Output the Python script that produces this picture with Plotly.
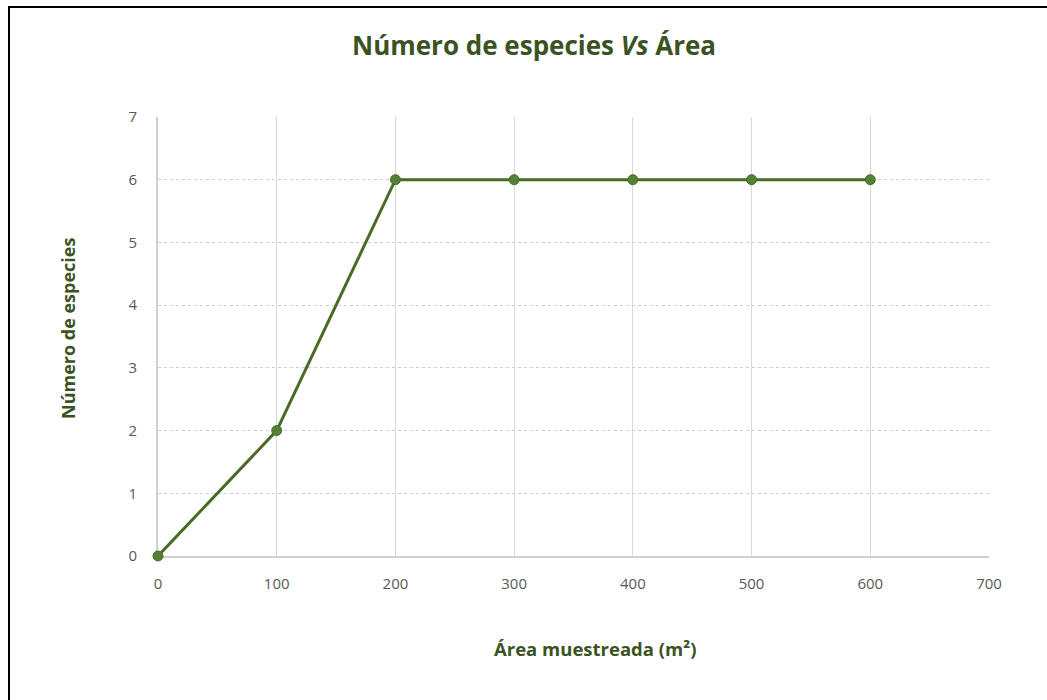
import plotly.graph_objects as go

# Species-area curve data
area = [0, 100, 200, 300, 400, 500, 600]
especies = [0, 2, 6, 6, 6, 6, 6]
x_ticks = [0, 100, 200, 300, 400, 500, 600, 700]
y_ticks = [0, 1, 2, 3, 4, 5, 6, 7]

W, H = 1047, 700
L, R, T, B = 158, 58, 117, 144
PW, PH = W - L - R, H - T - B

GREEN_TEXT = "#3b5323"
LINE = "#4a6b26"
MARKER = "#538135"
TICK = "#595959"
FONT = "'Open Sans', Lato, sans-serif"


def px(xp):
    return (xp - L) / PW


def py(yp):
    return (H - B - yp) / PH


fig = go.Figure()
fig.add_trace(go.Scatter(
    x=area, y=especies, mode="lines+markers",
    line=dict(color=LINE, width=3),
    marker=dict(color=MARKER, size=10, line=dict(color=LINE, width=1)),
    cliponaxis=False, showlegend=False,
))

fig.update_layout(
    width=W, height=H,
    margin=dict(l=L, r=R, t=T, b=B),
    paper_bgcolor="white", plot_bgcolor="white",
    font=dict(family=FONT, color=TICK, size=15),
    xaxis=dict(
        range=[0, 700], tickvals=x_ticks, ticks="outside", ticklen=13,
        tickcolor="rgba(0,0,0,0)", showline=True, layer="below traces",
        linecolor="#d0d0d0", linewidth=2, showgrid=True, gridcolor="#d9d9d9",
        gridwidth=1, zeroline=False, tickfont=dict(size=15, color=TICK),
    ),
    yaxis=dict(
        range=[0, 7], tickvals=y_ticks, ticks="", showline=True,
        layer="below traces",
        linecolor="#d0d0d0", linewidth=2, showgrid=True, gridcolor="#d0d0d0",
        griddash="dot", gridwidth=1, zeroline=False,
        tickfont=dict(size=15, color=TICK), ticklabelstandoff=16,
    ),
    annotations=[
        dict(text="<b>Número de especies <i>Vs</i> Área</b>", xref="paper", yref="paper",
             x=px(534), y=py(45), showarrow=False, xanchor="center", yanchor="middle",
             font=dict(size=26, color=GREEN_TEXT, family=FONT)),
        dict(text="<b>Área muestreada (m²)</b>", xref="paper", yref="paper",
             x=px(595), y=py(648), showarrow=False, xanchor="center", yanchor="middle",
             font=dict(size=18.5, color=GREEN_TEXT, family=FONT)),
        dict(text="<b>Número de especies</b>", xref="paper", yref="paper",
             x=px(68), y=py(329), showarrow=False, xanchor="center", yanchor="middle",
             textangle=-90, font=dict(size=18, color=GREEN_TEXT, family=FONT)),
    ],
    shapes=[
        dict(type="line", xref="paper", yref="paper", x0=px(9), x1=px(W + 2),
             y0=py(7), y1=py(7), line=dict(color="black", width=2)),
        dict(type="line", xref="paper", yref="paper", x0=px(9), x1=px(9),
             y0=py(6), y1=py(H + 2), line=dict(color="black", width=2)),
    ],
)

fig.write_html("out.html")
